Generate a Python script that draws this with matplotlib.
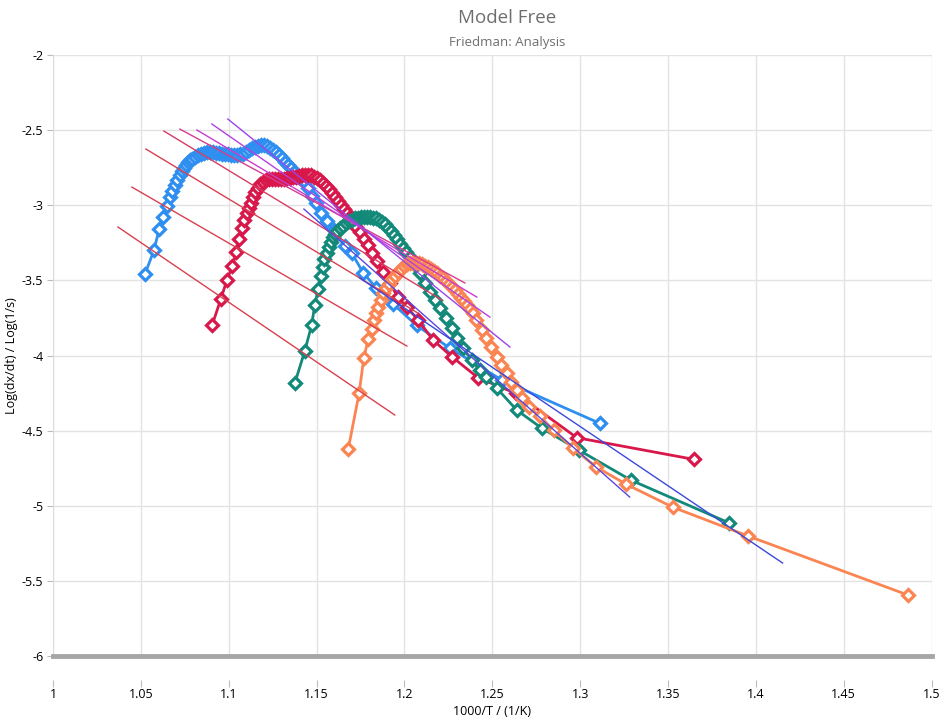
import matplotlib
matplotlib.use("Agg")
import matplotlib.pyplot as plt
from matplotlib.ticker import FuncFormatter, MultipleLocator

plt.rcParams["font.family"] = ["Open Sans", "DejaVu Sans"]
plt.rcParams["axes.unicode_minus"] = False

# 四条升温速率曲线 (1000/T, log(dx/dt))
blue_x = [1.0523, 1.0575, 1.0605, 1.0627, 1.0650, 1.0666, 1.0679, 1.0694, 1.0707, 1.0722,
          1.0734, 1.0745, 1.0757, 1.0768, 1.0779, 1.0791, 1.0808, 1.0825, 1.0842, 1.0859,
          1.0876, 1.0893, 1.0910, 1.0927, 1.0944, 1.0961, 1.0978, 1.0995, 1.1013, 1.1030,
          1.1047, 1.1064, 1.1081, 1.1098, 1.1115, 1.1132, 1.1149, 1.1166, 1.1183, 1.1200,
          1.1217, 1.1234, 1.1251, 1.1268, 1.1286, 1.1303, 1.1320, 1.1337, 1.1354, 1.1371,
          1.1388, 1.1405, 1.1428, 1.1451, 1.1473, 1.1496, 1.1524, 1.1559, 1.1598, 1.1661,
          1.1701, 1.1765, 1.1841, 1.1936, 1.2069, 1.2258, 1.2554, 1.3111]
blue_y = [-3.460, -3.298, -3.156, -3.080, -3.005, -2.947, -2.905, -2.865, -2.832, -2.799,
          -2.770, -2.749, -2.732, -2.715, -2.702, -2.689, -2.676, -2.666, -2.656, -2.649,
          -2.646, -2.646, -2.646, -2.649, -2.652, -2.656, -2.659, -2.662, -2.666, -2.666,
          -2.666, -2.662, -2.656, -2.646, -2.632, -2.622, -2.612, -2.606, -2.602, -2.602,
          -2.606, -2.616, -2.629, -2.646, -2.666, -2.686, -2.709, -2.732, -2.755, -2.779,
          -2.802, -2.819, -2.839, -2.885, -2.938, -2.985, -3.052, -3.105, -3.165, -3.271,
          -3.320, -3.448, -3.553, -3.657, -3.800, -3.950, -4.163, -4.451]

red_x = [1.0907, 1.0956, 1.0990, 1.1021, 1.1044, 1.1060, 1.1078, 1.1089, 1.1102, 1.1113,
         1.1125, 1.1138, 1.1152, 1.1166, 1.1180, 1.1195, 1.1212, 1.1229, 1.1246, 1.1263,
         1.1280, 1.1297, 1.1314, 1.1331, 1.1348, 1.1365, 1.1382, 1.1399, 1.1416, 1.1433,
         1.1451, 1.1468, 1.1485, 1.1502, 1.1519, 1.1536, 1.1553, 1.1570, 1.1587, 1.1604,
         1.1621, 1.1638, 1.1655, 1.1672, 1.1689, 1.1706, 1.1724, 1.1746, 1.1769, 1.1792,
         1.1815, 1.1843, 1.1877, 1.1917, 1.1962, 1.2012, 1.2078, 1.2163, 1.2270, 1.2419,
         1.2634, 1.2981, 1.3646]
red_y = [-3.794, -3.621, -3.497, -3.404, -3.311, -3.225, -3.148, -3.098, -3.052, -3.015,
         -2.982, -2.945, -2.912, -2.882, -2.859, -2.842, -2.832, -2.825, -2.822, -2.822,
         -2.822, -2.822, -2.822, -2.821, -2.819, -2.814, -2.809, -2.803, -2.799, -2.797,
         -2.797, -2.801, -2.809, -2.819, -2.832, -2.849, -2.869, -2.892, -2.918, -2.945,
         -2.972, -2.998, -3.025, -3.052, -3.078, -3.111, -3.145, -3.178, -3.225, -3.265,
         -3.318, -3.374, -3.444, -3.517, -3.611, -3.675, -3.764, -3.897, -4.008, -4.148,
         -4.252, -4.547, -4.691]

teal_x = [1.1377, 1.1433, 1.1472, 1.1490, 1.1509, 1.1523, 1.1534, 1.1543, 1.1557, 1.1568,
          1.1580, 1.1591, 1.1604, 1.1618, 1.1633, 1.1650, 1.1667, 1.1684, 1.1701, 1.1718,
          1.1735, 1.1752, 1.1769, 1.1786, 1.1803, 1.1820, 1.1837, 1.1854, 1.1871, 1.1889,
          1.1906, 1.1923, 1.1940, 1.1957, 1.1974, 1.1991, 1.2008, 1.2031, 1.2059, 1.2088,
          1.2116, 1.2144, 1.2173, 1.2201, 1.2236, 1.2268, 1.2300, 1.2334, 1.2382, 1.2429,
          1.2467, 1.2526, 1.2639, 1.2783, 1.2992, 1.3288, 1.3845]
teal_y = [-4.181, -3.970, -3.797, -3.664, -3.559, -3.474, -3.409, -3.360, -3.316, -3.276,
          -3.243, -3.213, -3.191, -3.171, -3.151, -3.135, -3.118, -3.105, -3.095, -3.087,
          -3.082, -3.078, -3.076, -3.076, -3.078, -3.082, -3.088, -3.098, -3.111, -3.128,
          -3.148, -3.171, -3.198, -3.225, -3.255, -3.285, -3.314, -3.344, -3.398, -3.453,
          -3.519, -3.575, -3.631, -3.686, -3.752, -3.819, -3.886, -3.952, -4.030, -4.097,
          -4.143, -4.218, -4.363, -4.485, -4.629, -4.829, -5.113]

orange_x = [1.1680, 1.1742, 1.1769, 1.1794, 1.1813, 1.1828, 1.1841, 1.1850, 1.1864, 1.1879,
            1.1894, 1.1911, 1.1928, 1.1945, 1.1962, 1.1980, 1.1997, 1.2014, 1.2031, 1.2048,
            1.2065, 1.2082, 1.2099, 1.2116, 1.2133, 1.2150, 1.2167, 1.2184, 1.2201, 1.2218,
            1.2236, 1.2253, 1.2270, 1.2287, 1.2304, 1.2321, 1.2338, 1.2355, 1.2372, 1.2391,
            1.2410, 1.2439, 1.2467, 1.2495, 1.2524, 1.2552, 1.2581, 1.2609, 1.2638, 1.2668,
            1.2708, 1.2770, 1.2850, 1.2960, 1.3089, 1.3259, 1.3528, 1.3955, 1.4865]
orange_y = [-4.624, -4.252, -4.015, -3.892, -3.826, -3.764, -3.719, -3.675, -3.631, -3.586,
            -3.551, -3.521, -3.494, -3.468, -3.444, -3.421, -3.404, -3.391, -3.384, -3.381,
            -3.381, -3.384, -3.391, -3.401, -3.411, -3.424, -3.438, -3.451, -3.468, -3.484,
            -3.504, -3.524, -3.544, -3.567, -3.591, -3.614, -3.637, -3.664, -3.690, -3.719,
            -3.764, -3.830, -3.886, -3.941, -4.008, -4.063, -4.118, -4.174, -4.230, -4.285,
            -4.341, -4.403, -4.499, -4.618, -4.740, -4.855, -5.010, -5.201, -5.594]

# 等转化率拟合直线: 起止点
fit_x0 = [1.0370, 1.0449, 1.0529, 1.0631, 1.0722, 1.0819, 1.0904, 1.0995, 1.1428, 1.1746]
fit_y0 = [-3.145, -2.879, -2.626, -2.506, -2.493, -2.499, -2.459, -2.426, -3.025, -3.484]
fit_x1 = [1.1945, 1.2014, 1.2076, 1.2213, 1.2344, 1.2412, 1.2486, 1.2600, 1.3282, 1.4152]
fit_y1 = [-4.396, -3.937, -3.717, -3.631, -3.517, -3.611, -3.744, -3.943, -4.942, -5.381]
fit_colors = ["#d9404e", "#d9404e", "#d9404e", "#d83c62", "#d63c8e", "#cc3ccc",
              "#b440e0", "#9c44e8", "#5a48e0", "#3a48dc"]

series = [(blue_x, blue_y, "#2f8ff0"), (red_x, red_y, "#d8174a"),
          (teal_x, teal_y, "#13897a"), (orange_x, orange_y, "#fb8552")]

fig = plt.figure(figsize=(9.41, 7.22), dpi=100)
ax = fig.add_axes([0.0563, 0.0914, 0.9337, 0.8324])

for xs, ys, c in series:
    ax.plot(xs, ys, color=c, lw=2, marker="D", ms=6.5, mfc="white", mec=c, mew=2.3, zorder=3)

for x0, y0, x1, y1, c in zip(fit_x0, fit_y0, fit_x1, fit_y1, fit_colors):
    ax.plot([x0, x1], [y0, y1], color=c, lw=1, zorder=4)

ax.axhline(-6, color="#a6a6a6", lw=3.5, zorder=5, clip_on=False)

ax.set_xlim(1, 1.5)
ax.set_ylim(-6, -2)
ax.xaxis.set_major_locator(MultipleLocator(0.05))
ax.yaxis.set_major_locator(MultipleLocator(0.5))
ax.xaxis.set_major_formatter(FuncFormatter(lambda v, p: f"{v:.2f}".rstrip("0").rstrip(".")))
ax.yaxis.set_major_formatter(FuncFormatter(lambda v, p: f"{v:.1f}".rstrip("0").rstrip(".")))
ax.grid(True, color="#e3e3e3", lw=1)
ax.set_axisbelow(True)
for s in ["top", "right", "bottom"]:
    ax.spines[s].set_visible(False)
ax.spines["left"].set_color("#dcdcdc")
ax.spines["bottom"].set_position(("outward", 22))
ax.tick_params(axis="x", direction="in", length=5, color="#bbbbbb", labelsize=9, pad=1)
ax.tick_params(axis="y", length=4, color="#bbbbbb", labelsize=9, pad=3)

ax.set_xlabel("1000/T / (1/K)", fontsize=9, labelpad=3)
ax.set_ylabel("Log(dx/dt) / Log(1/s)", fontsize=9)
ax.yaxis.set_label_coords(-0.040, 0.5)
fig.text(0.5393, 0.975, "Model Free", ha="center", va="center", fontsize=13.5, color="#6e6e6e")
fig.text(0.5393, 0.941, "Friedman: Analysis", ha="center", va="center", fontsize=9.5, color="#6e6e6e")

fig.savefig("out.png", dpi=100)
